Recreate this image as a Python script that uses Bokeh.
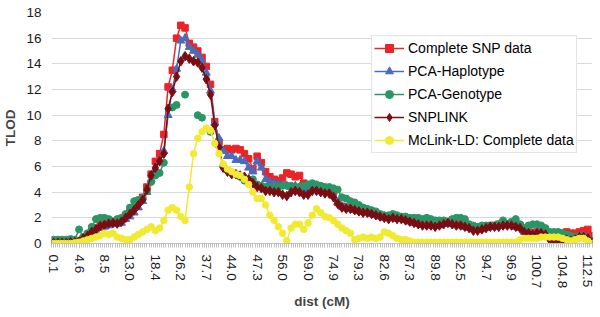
from bokeh.plotting import figure
from bokeh.models import Range1d, FixedTicker
from bokeh.embed import file_html
from bokeh.resources import INLINE

nan = float("nan")

# category-axis labels (dist, cM), one label every `label_step` points
x_labels = ["0.1", "4.6", "8.5", "13.0", "18.4", "26.2", "37.7", "44.0", "47.3", "56.0",
            "69.0", "74.9", "79.3", "82.6", "87.3", "89.8", "92.5", "94.7", "96.9",
            "100.7", "104.8", "112.5"]
label_step = 6

y_ticks = [0, 2, 4, 6, 8, 10, 12, 14, 16, 18]

complete_snp = [
    0.0, 0.0, 0.05, 0.05, 0.1, 0.1, 0.2, 0.4, 0.7, 1.0,
    1.2, 1.5, 1.7, 1.8, 1.7, 1.7, 1.9, 2.2, 2.4, 2.8,
    3.3, 3.6, 4.4, 5.4, 6.4, 7.0, 8.5, 12.2, 13.5, 16.0,
    17.0, 16.8, 15.6, 15.3, 15.0, 14.5, 13.8, 12.4, 9.5, 7.9,
    7.3, 7.4, 7.3, 7.4, 7.3, 7.0, 6.6, 5.8, 6.8, 6.3,
    5.6, 5.2, 5.0, 4.9, 5.1, 5.5, 5.4, 5.2, 5.3, 4.7,
    4.4, 4.4, 4.3, 4.2, 4.1, 4.2, 4.0, 3.2, 2.9, 2.8,
    2.8, 2.7, 2.6, 2.5, 2.5, 2.4, 2.3, 2.2, 2.1, 2.1,
    2.1, 2.0, 2.0, 1.9, 1.8, 1.7, 1.6, 1.5, 1.5, 1.5,
    1.5, 1.6, 1.6, 1.7, 1.7, 1.5, 1.5, 1.4, 1.3, 1.2,
    1.2, 1.2, 1.3, 1.4, 1.4, 1.5, 1.5, 1.5, 1.5, 1.4,
    1.4, 1.0, 0.9, 0.8, 0.9, 0.9, 0.9, 0.8, 0.7, 0.8,
    0.8, 0.9, 0.8, 0.8, 0.9, 1.0, 1.1, 0.6]

pca_haplotype = [
    0.05, 0.05, 0.05, 0.05, 0.1, 0.1, 0.1, 0.3, 0.5, 0.8,
    1.0, 1.2, 1.3, 1.4, 1.5, 1.5, 1.6, 1.9, 2.1, 2.4,
    2.8, 3.3, 4.0, 5.0, 5.8, 6.4, 7.2, 10.0, 12.0, 13.6,
    15.8, 16.0, 15.3, 15.0, 14.7, 14.3, 13.3, 11.9, 9.4, 8.2,
    7.2, 6.8, 6.8, 6.5, 6.5, 6.4, 5.9, 5.6, 6.4, 5.9,
    5.0, 4.8, 4.7, 4.6, 4.6, 4.5, 4.4, 4.5, 4.4, 4.3,
    4.2, 4.4, 4.3, 4.1, 4.0, 4.0, 3.7, 3.2, 2.9, 2.8,
    2.7, 2.6, 2.5, 2.5, 2.4, 2.3, 2.2, 2.1, 2.0, 2.0,
    2.0, 1.9, 1.9, 1.8, 1.7, 1.6, 1.5, 1.5, 1.4, 1.4,
    1.4, 1.4, 1.5, 1.6, 1.5, 1.4, 1.4, 1.3, 1.2, 1.1,
    1.1, 1.1, 1.2, 1.3, 1.3, 1.4, 1.4, 1.4, 1.4, 1.3,
    1.2, 0.9, 0.8, 0.8, 0.8, 0.9, 0.8, 0.6, 0.5, 0.5,
    0.5, 0.5, 0.4, 0.4, 0.5, 0.6, 0.5, 0.1]

pca_genotype = [
    0.3, 0.3, 0.3, 0.3, 0.35, 0.3, 1.1, 0.5, 0.8, 1.3,
    1.9, 2.0, 2.0, 1.9, 1.7, 1.9, 2.0, 2.3, 2.8, 3.3,
    3.4, 3.5, 4.1, 4.8, 5.3, 5.5, 6.3, nan, 10.6, 10.8,
    nan, 11.6, nan, nan, 10.0, 9.8, nan, 8.7, nan, nan,
    6.0, 5.7, 5.5, 5.4, 5.2, 4.9, 4.9, 5.0, 4.6, 4.5,
    4.4, 4.4, 4.4, 4.4, 4.5, 4.5, 4.5, 4.4, 4.4, 4.5,
    4.6, 4.7, 4.6, 4.5, 4.4, 4.4, 4.3, 4.2, 3.6, 3.5,
    3.3, 3.2, 3.0, 2.8, 2.7, 2.6, 2.5, 2.3, 2.2, 2.2,
    2.3, 2.2, 2.1, 2.1, 2.0, 2.0, 2.0, 1.9, 2.0, 1.9,
    1.8, 1.8, 1.8, 1.7, 1.9, 2.0, 2.0, 1.9, 1.5, 1.4,
    1.3, 1.4, 1.4, 1.4, 1.4, 1.5, 1.8, 1.5, 1.7, 1.9,
    1.5, 1.2, 1.4, 1.5, 1.5, 1.4, 1.2, 0.9, 0.9, 0.9,
    0.8, 0.7, 0.6, 0.5, 0.6, 0.5, 0.4, 0.2]

snplink = [
    0.05, 0.05, 0.05, 0.05, 0.1, 0.1, 0.15, 0.4, 0.6, 0.9,
    1.1, 1.35, 1.45, 1.55, 1.6, 1.55, 1.7, 2.0, 2.3, 2.6,
    3.0, 3.4, 4.2, 5.3, 5.9, 6.4, 7.0, 10.5, 11.8, 13.0,
    14.2, 14.6, 14.4, 14.2, 14.1, 13.7, 12.8, 11.6, 9.2, 7.5,
    5.9, 5.6, 5.4, 5.4, 5.3, 5.2, 5.0, 4.7, 4.4, 4.3,
    4.1, 4.1, 4.0, 4.0, 3.8, 3.7, 4.0, 4.1, 4.0, 3.8,
    3.8, 4.1, 4.1, 4.0, 3.9, 3.9, 3.6, 3.1, 2.8, 2.7,
    2.7, 2.6, 2.5, 2.4, 2.4, 2.3, 2.2, 2.1, 2.0, 1.9,
    2.0, 1.9, 1.9, 1.8, 1.7, 1.6, 1.5, 1.4, 1.4, 1.4,
    1.3, 1.4, 1.5, 1.6, 1.5, 1.4, 1.4, 1.3, 1.2, 1.0,
    1.0, 1.1, 1.2, 1.3, 1.3, 1.3, 1.4, 1.4, 1.4, 1.3,
    1.2, 0.9, 0.8, 0.7, 0.8, 0.8, 0.7, 0.3, 0.2, 0.2,
    0.2, 0.3, 0.2, 0.3, 0.5, 0.5, 0.4, 0.1]

mclink_ld = [
    0.0, 0.0, 0.0, 0.0, 0.0, 0.05, 0.1, 0.2, 0.3, 0.4,
    0.5, 0.6, 0.8, 0.7, 0.8, 0.5, 0.4, 0.3, 0.3, 0.5,
    0.7, 0.9, 1.1, 1.3, 1.0, 1.2, 1.8, 2.6, 2.8, 2.6,
    2.1, 1.8, 4.4, 7.0, 8.2, 8.7, 9.0, 8.8, 7.8, 7.0,
    6.2, 5.8, 5.6, 5.4, 5.3, 5.0, 4.6, 4.0, 3.5, 3.5,
    3.0, 2.2, 1.8, 1.3, 0.8, 0.2, 1.2, 1.5, 1.5, 1.1,
    1.6, 2.2, 2.7, 2.4, 2.1, 2.0, 1.8, 1.5, 1.2, 1.0,
    0.8, 0.3, 0.4, 0.5, 0.4, 0.5, 0.4, 0.5, 0.9, 0.8,
    0.6, 0.4, 0.3, 0.3, 0.2, 0.1, 0.1, 0.1, 0.1, 0.1,
    0.1, 0.1, 0.1, 0.1, 0.1, 0.1, 0.1, 0.1, 0.1, 0.1,
    0.1, 0.1, 0.1, 0.1, 0.1, 0.1, 0.1, 0.1, 0.1, 0.1,
    0.3, 0.4, 0.4, 0.4, 0.4, 0.5, 0.5, 0.5, 0.5, 0.5,
    0.4, 0.3, 0.2, 0.3, 0.4, 0.4, 0.2, 0.0]

series_names = ["Complete SNP data", "PCA-Haplotype", "PCA-Genotype", "SNPLINK",
                "McLink-LD: Complete data"]

FONT = "Liberation Sans"
n = len(snplink)
idx = list(range(n))

p = figure(width=600, height=317, output_backend="svg", toolbar_location=None,
           x_range=Range1d(-0.5, n - 0.9), y_range=Range1d(0, 18),
           min_border_left=50, min_border_right=8, min_border_top=12, min_border_bottom=74)
p.outline_line_color = None
p.background_fill_color = "white"
p.border_fill_color = "white"

# (values, colour, marker, size)
styles = [
    (complete_snp, "#ec2326", "square", 6.5),
    (pca_haplotype, "#4a6cbc", "triangle", 8),
    (pca_genotype, "#2a9666", "circle", 7),
    (snplink, "#7a0d12", "diamond", 9.5),
    (mclink_ld, "#f2ea30", "circle", 6.5),
]
for name, (vals, col, mk, sz) in zip(series_names, styles):
    p.line(idx, vals, line_color=col, line_width=1.5, legend_label=name)
    p.scatter(idx, vals, marker=mk, size=sz, fill_color=col, line_color=col,
              legend_label=name)

# x axis
label_pos = [k * label_step for k in range(len(x_labels))]
p.xaxis.ticker = FixedTicker(ticks=label_pos,
                             minor_ticks=[i * 0.5 for i in range(-1, 2 * n)])
p.xaxis.major_label_overrides = {pos: lab for pos, lab in zip(label_pos, x_labels)}
p.xaxis.major_label_orientation = "vertical"
p.xaxis.axis_line_color = "#bfbfbf"
p.xaxis.major_tick_line_color = "#bfbfbf"
p.xaxis.minor_tick_line_color = "#bfbfbf"
p.xaxis.major_tick_in = 0
p.xaxis.major_tick_out = 4
p.xaxis.minor_tick_in = 0
p.xaxis.minor_tick_out = 4
p.xaxis.major_label_standoff = 7
p.xaxis.major_label_text_font = FONT
p.xaxis.major_label_text_font_size = "13.5px"
p.xaxis.major_label_text_color = "#1a1a1a"
p.xaxis.axis_label = "dist (cM)"
p.xaxis.axis_label_text_font = FONT
p.xaxis.axis_label_text_font_size = "13.5px"
p.xaxis.axis_label_text_font_style = "bold"
p.xaxis.axis_label_standoff = 3

# y axis
p.yaxis.ticker = FixedTicker(ticks=y_ticks)
p.yaxis.axis_line_color = None
p.yaxis.major_tick_line_color = None
p.yaxis.minor_tick_line_color = None
p.yaxis.major_tick_out = 0
p.yaxis.minor_tick_out = 0
p.yaxis.major_tick_in = 0
p.yaxis.minor_tick_in = 0
p.yaxis.major_label_standoff = 10
p.yaxis.major_label_text_font = FONT
p.yaxis.major_label_text_font_size = "13.5px"
p.yaxis.major_label_text_color = "#1a1a1a"
p.yaxis.axis_label = "TLOD"
p.yaxis.axis_label_text_font = FONT
p.yaxis.axis_label_text_font_size = "13.5px"
p.yaxis.axis_label_text_font_style = "bold"
p.yaxis.axis_label_standoff = 5

p.xgrid.grid_line_color = None
p.ygrid.grid_line_color = "#d9d9d9"
p.ygrid.grid_line_width = 1

# legend
lg = p.legend[0]
lg.location = (320, 90)
lg.label_text_font = FONT
lg.label_text_font_size = "14px"
lg.label_text_color = "#000000"
lg.border_line_color = "#c8c8c8"
lg.border_line_width = 1
lg.background_fill_color = "white"
lg.background_fill_alpha = 1.0
lg.padding = 2
lg.spacing = 3
lg.margin = 0
lg.glyph_width = 30
lg.glyph_height = 20
lg.label_height = 20
lg.label_standoff = 4

open("out.html", "w").write(file_html(p, INLINE))
